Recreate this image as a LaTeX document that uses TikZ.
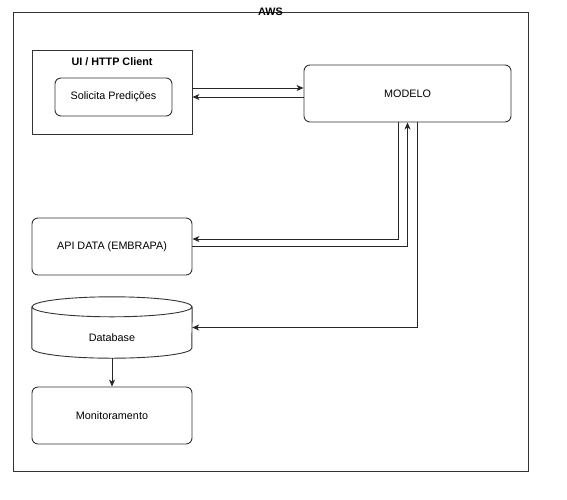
\documentclass[tikz,border=0pt]{standalone}
\usepackage{fontspec}
\setmainfont{Liberation Sans}
\usetikzlibrary{calc,arrows.meta}

\begin{document}
\begin{tikzpicture}[x=1pt,y=-1pt,
    every node/.style={font=\fontsize{10.8}{13}\selectfont},
    box/.style={draw=black!80,line width=0.9pt,minimum width=160pt,minimum height=57pt},
    rbox/.style={box,rounded corners=6pt},
    link/.style={line width=0.9pt,draw=black!85,-{Stealth[length=7pt,width=6pt,inset=2pt]}}]
            \useasboundingbox (0,0) rectangle (567,499);

            % frame and its title
            \node[draw=black!80,line width=0.9pt,minimum width=515pt,minimum height=459pt] (aws) at (270.5,241.5) {};
            \node[font=\fontsize{10.8}{13}\selectfont\bfseries] (awslabel) at (aws.north) {AWS};

            % client
            \node[box,minimum height=84pt] (ui) at (112,92) {};
            \node[font=\fontsize{10.8}{13}\selectfont\bfseries] (uilabel) at ($ (ui.north) + (0,12) $) {UI / HTTP Client};
            \node[rbox,minimum width=117pt,minimum height=38pt] (pred) at (113.5,97) {Solicita Predições};

            \node[rbox,minimum width=207pt] (modelo) at (407.5,93.5) {MODELO};
            \node[rbox] (api) at (112,246.5) {API DATA (EMBRAPA)};
            \node[rbox] (mon) at (112,415.5) {Monitoramento};

            % database cylinder
            \node[minimum width=160pt,minimum height=61pt] (db) at (112,327.5) {};
            \node (dblabel) at ($ (db) + (0,10.5) $) {Database};
            \draw[draw=black!80,line width=0.9pt]
                ($ (db.north) + (0,10) $) ellipse [x radius=80pt,y radius=10pt]
                ($ (db.north west) + (0,10) $) -- ($ (db.south west) + (0,-10) $)
                arc [start angle=180,end angle=360,x radius=80pt,y radius=10pt]
                -- ($ (db.north east) + (0,10) $);

            % connections
            \coordinate (c1) at ($ (ui.east) + (0,-4) $);
            \coordinate (c2) at ($ (modelo.west) + (0,3.5) $);
            \draw[link] (c1) -- (c1 -| modelo.west);
            \draw[link] (c2) -- (c2 -| ui.east);

            \draw[link] ($ (modelo.south) + (-9.5,0) $) |- ($ (api.east) + (0,-7.5) $);
            \draw[link] (api.east) -| (modelo.south);
            \draw[link] ($ (modelo.south) + (9.5,0) $) |- (db.east);
            \draw[link] (db.south) -- (mon.north);
        \end{tikzpicture}
\end{document}
